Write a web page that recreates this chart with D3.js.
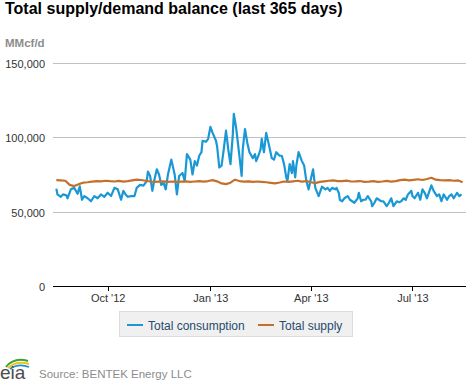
<!DOCTYPE html>
<html>
<head>
<meta charset="utf-8">
<script src="https://cdn.jsdelivr.net/npm/d3@7/dist/d3.min.js"></script>
<style>
  html, body { margin: 0; padding: 0; background: #fff; }
  svg { display: block; }
  text { font-family: "Liberation Sans", Arial, sans-serif; }
</style>
</head>
<body>
<svg id="chart" width="470" height="383"></svg>
<script>
// ---- DATA ----
const title = "Total supply/demand balance (last 365 days)";
const unitLabel = "MMcf/d";
const sourceText = "Source: BENTEK Energy LLC";
const seriesNames = ["Total consumption", "Total supply"];
const startDate = [2012, 7, 16]; // day 0 of the series (Aug 16, 2012)

// Total consumption: day offsets from start, values in thousand MMcf/d
const consumptionDays = [0,1,4,6,9,10,13,16,19,21,23,25,28,31,34,37,40,43,46,49,52,55,58,60,62,64,67,70,72,75,78,81,82,84,86,88,90,92,94,96,98,100,103,106,108,110,113,115,117,120,122,124,126,128,130,131,134,136,138,140,143,144,146,148,150,152,154,156,158,159,161,164,
166,167,169,171,173,176,178,179,181,183,184,186,188,191,193,195,197,200,202,204,206,207,209,211,212,214,215,217,220,222,224,226,228,230,231,232,235,236,238,241,243,245,247,250,251,253,254,256,258,261,263,265,267,270,271,273,275,277,279,282,283,285,287,289,291,293,296,298,300,302,305,307,309,311,313,315,318,319,321,324,326,328,330,332,335,336,338,341,343,345,347,350,352,354,356,359,361,363];
const consumptionValues = [65.5,61.6,60,61.6,61,59,65,66,62,67,58,60.5,59,57,60.5,59,61.6,60,62.7,60.5,66,65,58,64,61.6,60,60.5,60.5,66,68,67.5,70.6,77,74,64,72,78.5,75,68,69.5,65,75,85,75,61.6,74,76,70.6,88.7,85,75,84,81,87.6,90,97.7,97,99,107,103,97.7,94,79.7,81,92,104.5,92,82,101,115.8,106.8,87.6,
74,92,105.6,96.6,90,86,88.7,84,87.6,92,99,90,103,93,86,85,90,87.6,87.6,82,73,70.6,82,76,84,73,81,90,84,81,70.6,65,72,78.5,72,66,60.5,62.7,66.8,65,66,64,66,65,66,62.7,58,57,59,60.5,58,57,56,59,62.7,57,58,58,60.5,57,53.7,56,59,58,57,57,53.7,56,59,53.7,57,56.4,57,59,58,61.6,64,60.5,59,62.7,58,65,62.7,59,65.5,67.7,64,60.5,61.6,57,61.6,58,60.5,61.6,59,62.7,60.5,61.6];

// Total supply: every 4 days from start, values in thousand MMcf/d
const supplyStep = 4;
const supplyValues = [71.2,71.0,70.8,68.0,67.2,68.5,69.5,69.8,70.2,70.6,70.4,70.8,70.5,70.3,70.7,70.2,70.5,71.0,71.5,71.3,70.8,70.3,70.0,70.2,70.4,70.1,70.3,70.0,70.2,70.4,70.1,70.3,70.5,70.2,70.6,71.2,70.4,69.0,68.5,69.5,71.5,70.6,70.2,70.4,70.0,70.3,70.1,69.8,69.4,69.0,69.6,70.3,70.0,70.4,70.8,70.2,70.6,69.8,69.2,70.0,70.4,70.8,71.0,70.6,70.5,70.9,70.3,70.4,70.6,70.0,70.2,70.5,70.1,70.3,70.7,70.2,70.5,71.2,71.6,71.0,71.4,71.8,71.3,72.0,72.8,71.5,71.2,71.0,71.2,70.8,71.0,69.8];

const yTicks = [0, 50000, 100000, 150000];
const xTickDates = [[2012,9,1,"Oct '12"],[2013,0,1,"Jan '13"],[2013,3,1,"Apr '13"],[2013,6,1,"Jul '13"]];

// ---- BUILD ----
const day0 = new Date(startDate[0], startDate[1], startDate[2]);
const addDays = n => d3.timeDay.offset(day0, n);
const consumption = consumptionDays.map((d, i) => ({date: addDays(d), value: consumptionValues[i] * 1000}));
const supply = supplyValues.map((v, i) => ({date: addDays(i * supplyStep), value: v * 1000}));

const svg = d3.select("#chart");
const plot = {left: 53, right: 466, top: 63, bottom: 286};

const x = d3.scaleTime()
  .domain([new Date(2012, 7, 13), new Date(2013, 7, 18)])
  .range([plot.left, plot.right]);
const y = d3.scaleLinear().domain([0, 150000]).range([plot.bottom, plot.top]);

// title
svg.append("text").attr("x", 5).attr("y", 14)
  .attr("font-size", "16px").attr("font-weight", "bold").attr("fill", "#000")
  .text(title);
svg.append("text").attr("x", 5).attr("y", 47)
  .attr("font-size", "11.5px").attr("font-weight", "bold").attr("fill", "#8c8c8c")
  .text(unitLabel);

// gridlines
const yAxis = d3.axisLeft(y).tickValues(yTicks).tickSize(-(plot.right - plot.left))
  .tickPadding(8).tickFormat(d3.format(","));
const gy = svg.append("g").attr("transform", `translate(${plot.left},0)`).call(yAxis);
gy.select(".domain").remove();
gy.selectAll(".tick line").attr("stroke", "#c0c0c0").attr("shape-rendering", "crispEdges");
gy.selectAll(".tick").filter(d => d === 0).select("line").remove();
gy.selectAll(".tick text").attr("font-size", "11px").attr("fill", "#333")
  .attr("font-family", "Liberation Sans, Arial, sans-serif").attr("x", -8).attr("dy", "0.42em");

// x axis
const xAxis = d3.axisBottom(x)
  .tickValues(xTickDates.map(t => new Date(t[0], t[1], t[2])))
  .tickSize(5).tickPadding(3)
  .tickFormat((d, i) => xTickDates[i][3]);
const gx = svg.append("g").attr("transform", `translate(0,${plot.bottom})`).call(xAxis);
gx.select(".domain").attr("stroke", "#000").attr("d", `M${plot.left},0.5H${plot.right}`).attr("shape-rendering", "crispEdges");
gx.selectAll(".tick line").attr("stroke", "#000").attr("shape-rendering", "crispEdges");
gx.selectAll(".tick text").attr("font-size", "11px").attr("fill", "#333")
  .attr("font-family", "Liberation Sans, Arial, sans-serif");

// lines
const line = d3.line().x(d => x(d.date)).y(d => y(d.value)).curve(d3.curveLinear);
const blue = "#1a98d5", orange = "#c4702d";
svg.append("path").datum(consumption).attr("d", line)
  .attr("fill", "none").attr("stroke", blue).attr("stroke-width", 2.2).attr("stroke-linejoin", "round");
svg.append("path").datum(supply).attr("d", line)
  .attr("fill", "none").attr("stroke", orange).attr("stroke-width", 2.2).attr("stroke-linejoin", "round");

// legend
const lg = svg.append("g");
lg.append("rect").attr("x", 119.5).attr("y", 311.5).attr("width", 233).attr("height", 25)
  .attr("fill", "#f0f0f0").attr("stroke", "#dcdcdc");
const items = [{name: seriesNames[0], color: blue, x: 127}, {name: seriesNames[1], color: orange, x: 258}];
items.forEach(it => {
  lg.append("line").attr("x1", it.x).attr("x2", it.x + 16).attr("y1", 325).attr("y2", 325)
    .attr("stroke", it.color).attr("stroke-width", 2);
  lg.append("text").attr("x", it.x + 21).attr("y", 329.5).attr("font-size", "12px")
    .attr("fill", "#274b6d").text(it.name);
});

// source + logo
const logo = svg.append("g");
logo.append("path").attr("d", "M6,367 Q14,357 28,361").attr("fill", "none").attr("stroke", "#3aa335").attr("stroke-width", 2);
logo.append("path").attr("d", "M8,368 Q16,360 29,364").attr("fill", "none").attr("stroke", "#f2c21b").attr("stroke-width", 2);
logo.append("path").attr("d", "M10,369 Q18,363 29,367").attr("fill", "none").attr("stroke", "#1d8fd0").attr("stroke-width", 1.8);
logo.append("text").attr("x", 0).attr("y", 379).attr("font-family", "Liberation Serif, serif")
  .attr("font-size", "19px").attr("fill", "#4d4d4d").text("eia");
svg.append("text").attr("x", 39).attr("y", 378).attr("font-size", "11.5px").attr("fill", "#8c8c8c").text(sourceText);
</script>
</body>
</html>
